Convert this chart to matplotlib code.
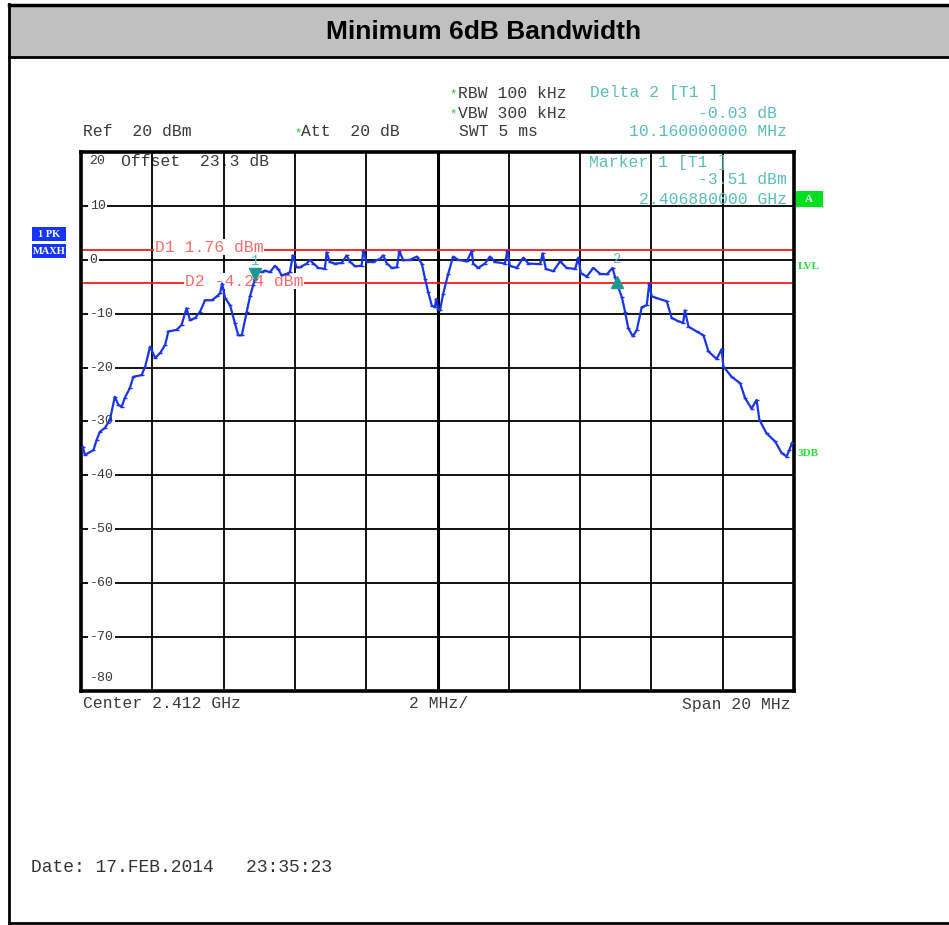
import numpy as np
import matplotlib.pyplot as plt
from matplotlib.patches import Rectangle

##############################
#    Trace    #

# frequency offset from centre 2.412 GHz (MHz), level (dBm)
freq_mhz = [-9.95, -9.89, -9.65, -9.56, -9.47, -9.33, -9.19, -9.05, -8.95, -8.86,
            -8.77, -8.63, -8.53, -8.30, -8.20, -8.06, -7.92, -7.78, -7.64, -7.55,
            -7.32, -7.18, -7.04, -6.94, -6.80, -6.66, -6.52, -6.33, -6.19, -6.10,
            -6.04, -5.96, -5.82, -5.68, -5.59, -5.49, -5.35, -5.26, -5.17, -5.12,
            -5.07, -4.93, -4.84, -4.70, -4.56, -4.47, -4.37, -4.23, -4.14, -4.06,
            -3.95, -3.86, -3.67, -3.58, -3.48, -3.34, -3.16, -3.11, -3.02, -2.88,
            -2.69, -2.55, -2.45, -2.31, -2.13, -2.08, -1.99, -1.80, -1.61, -1.52,
            -1.42, -1.28, -1.14, -1.07, -0.96, -0.77, -0.58, -0.44, -0.35, -0.26,
            -0.16, -0.07, -0.04, 0.02, 0.07, 0.16, 0.30, 0.44, 0.58, 0.82,
            0.96, 1.00, 1.14, 1.33, 1.47, 1.61, 1.89, 1.96, 2.03, 2.22,
            2.41, 2.55, 2.88, 2.95, 3.04, 3.25, 3.44, 3.62, 3.86, 3.95,
            4.02, 4.19, 4.37, 4.56, 4.75, 4.91, 4.98, 5.07, 5.17, 5.26,
            5.35, 5.48, 5.59, 5.73, 5.87, 5.94, 6.01, 6.15, 6.43, 6.57,
            6.76, 6.89, 6.94, 7.04, 7.27, 7.46, 7.60, 7.83, 7.97, 8.02,
            8.25, 8.49, 8.63, 8.81, 8.95, 9.03, 9.23, 9.47, 9.65, 9.79,
            9.87, 9.94]
level_dbm = [-34.7, -36.2, -35.3, -33.4, -31.9, -31.2, -29.7, -25.4, -26.9, -27.3,
             -25.6, -23.8, -21.7, -21.4, -19.8, -16.1, -18.2, -17.3, -15.8, -13.3,
             -13.0, -12.1, -9.0, -11.2, -10.8, -9.6, -7.5, -7.5, -6.8, -6.2,
             -4.4, -7.1, -8.4, -11.8, -14.0, -14.0, -9.6, -6.8, -4.7, -3.5,
             -1.9, -2.3, -2.0, -2.3, -1.1, -1.7, -2.9, -2.6, -2.3, 0.8,
             -1.4, -1.4, -0.7, 0.0, -0.7, -1.5, -1.7, 1.4, -0.4, -0.7,
             -0.6, 0.8, -0.4, -1.2, -1.1, 1.7, -0.4, -0.4, 0.2, 0.8,
             -0.7, -1.5, -1.4, 1.6, -0.1, 0.0, 0.6, -0.7, -3.5, -6.0,
             -8.5, -8.8, -7.3, -9.1, -9.4, -6.3, -2.6, 0.6, 0.0, -0.3,
             1.6, -0.7, -1.5, -0.7, 0.6, -0.4, -0.7, 1.6, -1.1, -1.5,
             0.4, -0.7, -0.8, 1.2, -1.7, -2.1, -0.3, -1.5, -1.7, 0.4,
             -2.5, -3.1, -1.5, -2.6, -2.7, -1.5, -3.2, -5.1, -6.9, -9.6,
             -12.7, -14.2, -13.0, -8.8, -8.4, -4.4, -6.8, -7.1, -7.7, -10.8,
             -11.4, -11.7, -9.4, -12.4, -13.3, -14.0, -17.0, -18.4, -16.6, -19.8,
             -21.7, -22.9, -25.7, -27.6, -26.0, -29.7, -32.2, -33.7, -35.8, -36.5,
             -35.3, -34.0]

y_ticks = [10, 0, -10, -20, -30, -40, -50, -60, -70, -80]
x_grid = [-8, -6, -4, -2, 0, 2, 4, 6, 8]

d1_level = 1.76
d2_level = -4.24
marker1 = (-5.12, -3.51)
marker2 = (5.04, -3.54)

#    Trace    #
##############################

W, H = 949, 925
mono = "Liberation Mono"
fs = 11.8  # instrument text size
teal = "#5cbcbc"
grey_txt = "#3a3a3a"

fig = plt.figure(figsize=(W/100, H/100), dpi=100)

def ftext(x, y, s, **kw):
    # place text in pixel coords (y from top)
    kw.setdefault("family", mono)
    kw.setdefault("fontsize", fs)
    kw.setdefault("va", "center")
    return fig.text(x/W, 1 - y/H, s, **kw)

def fline(x0, y0, x1, y1, lw):
    fig.add_artist(plt.Line2D([x0/W, x1/W], [1 - y0/H, 1 - y1/H], color="black", lw=lw))

# outer frame + title bar
fig.add_artist(Rectangle((9/W, 1 - 57/H), 1 - 9/W, 52/H, facecolor="#c0c0c0", edgecolor="none"))
fline(9, 5, W, 5, 2.5)
fline(9, 57, W, 57, 2.0)
fline(9, 4, 9, 924, 2.0)
fline(9, 923, W, 923, 2.0)
ftext(484, 32, "Minimum 6dB Bandwidth", family="Liberation Sans", fontsize=19,
      fontweight="bold", ha="center")

# plot area
ax = fig.add_axes([81/W, (H - 691)/H, 713/W, 539/H])
ax.set_xlim(-10, 10)
ax.set_ylim(-80, 20)
ax.set_xticks([])
ax.set_yticks([])
for sp in ax.spines.values():
    sp.set_linewidth(2.6)

for xg in x_grid:
    ax.axvline(xg, color="black", lw=2.2 if xg == 0 else 1.3, zorder=1)
for yt in y_ticks[:-1]:
    ax.axhline(yt, color="black", lw=1.3, zorder=1)

ytr = ax.get_yaxis_transform()
for yt in y_ticks:
    yy = yt if yt != -80 else -77.5
    ax.text(0.012, yy, str(yt), transform=ytr,
            family=mono, fontsize=9.5, color=grey_txt, va="center", ha="left", zorder=2,
            bbox=dict(facecolor="white", edgecolor="none", pad=1.0))
ax.text(0.012, 18.3, "20", transform=ytr, family=mono, fontsize=9.5, color=grey_txt,
        va="center", ha="left", zorder=0.5)
ax.text(-8.88, 18.3, "Offset  23.3 dB", family=mono, fontsize=fs, color=grey_txt,
        va="center", ha="left", zorder=0.5)

# display lines D1 / D2
ax.axhline(d1_level, color="#ff1a1a", lw=1.3, zorder=1.5)
ax.axhline(d2_level, color="#ff1a1a", lw=1.3, zorder=1.5)
ax.text(-7.92, d1_level + 0.6, "D1 %.2f dBm" % d1_level, family=mono, fontsize=fs,
        color="#ff6a6a", va="center", ha="left", zorder=2,
        bbox=dict(facecolor="white", edgecolor="none", pad=0.5))
ax.text(-7.08, d2_level + 0.3, "D2 %.2f dBm" % d2_level, family=mono, fontsize=fs,
        color="#ff6a6a", va="center", ha="left", zorder=2,
        bbox=dict(facecolor="white", edgecolor="none", pad=0.5))

# trace
ax.plot(freq_mhz, level_dbm, color="#1a35e8", lw=1.6, marker="_", ms=3.5, mew=1.0, zorder=3)

# markers
ax.plot(marker1[0], marker1[1] + 0.8, marker="v", color="#1a9a8e", ms=8, zorder=4)
ax.text(marker1[0], marker1[1] + 3.3, "1", family=mono, fontsize=10, color=teal,
        ha="center", va="center", zorder=4)
ax.plot(marker2[0], marker2[1] - 0.6, marker="^", color="#1a9a8e", ms=8, zorder=4)
ax.text(marker2[0], marker2[1] + 3.6, "2", family=mono, fontsize=10, color=teal,
        ha="center", va="center", zorder=4)

# marker readout inside plot
ax.text(4.25, 18.1, "Marker 1 [T1 ]", family=mono, fontsize=fs, color=teal,
        va="center", ha="left", zorder=5)
ftext(787, 180, "%.2f dBm" % marker1[1], ha="right", color=teal)
ftext(787, 200, "2.406880000 GHz", ha="right", color=teal)

# header
ftext(83, 132, "Ref  20 dBm", color=grey_txt)
ftext(294, 133, "*", color="#22cc22", fontsize=9)
ftext(301, 132, "Att  20 dB", color=grey_txt)
ftext(459, 132, "SWT 5 ms", color=grey_txt)
ftext(787, 132, "10.160000000 MHz", ha="right", color=teal)
ftext(449, 94, "*", color="#22cc22", fontsize=9)
ftext(458, 93, "RBW 100 kHz", color=grey_txt)
ftext(449, 114, "*", color="#22cc22", fontsize=9)
ftext(458, 113, "VBW 300 kHz", color=grey_txt)
ftext(590, 93, "Delta 2 [T1 ]", color=teal)
ftext(777, 113, "-0.03 dB", ha="right", color=teal)

# bottom labels
ftext(83, 704, "Center 2.412 GHz", color=grey_txt)
ftext(409, 704, "2 MHz/", color=grey_txt)
ftext(791, 704, "Span 20 MHz", ha="right", color=grey_txt)
ftext(31, 868, "Date: 17.FEB.2014   23:35:23", color="#333333", fontsize=13)

# side badges
for yb, lab in [(227, "1 PK"), (244, "MAXH")]:
    fig.add_artist(Rectangle((32/W, 1 - (yb + 14)/H), 34/W, 14/H, facecolor="#1434ff", edgecolor="none"))
    ftext(49, yb + 7, lab, ha="center", color="white", family="Liberation Serif",
          fontsize=7.5, fontweight="bold")
fig.add_artist(Rectangle((796/W, 1 - 207/H), 27/W, 16/H, facecolor="#00e020", edgecolor="none"))
ftext(809, 199, "A", ha="center", color="white", family="Liberation Serif", fontsize=8, fontweight="bold")
ftext(798, 267, "LVL", color="#22dd33", family="Liberation Serif", fontsize=8, fontweight="bold")
ftext(798, 454, "3DB", color="#22dd33", family="Liberation Serif", fontsize=8, fontweight="bold")

plt.savefig("out.png", dpi=100)
